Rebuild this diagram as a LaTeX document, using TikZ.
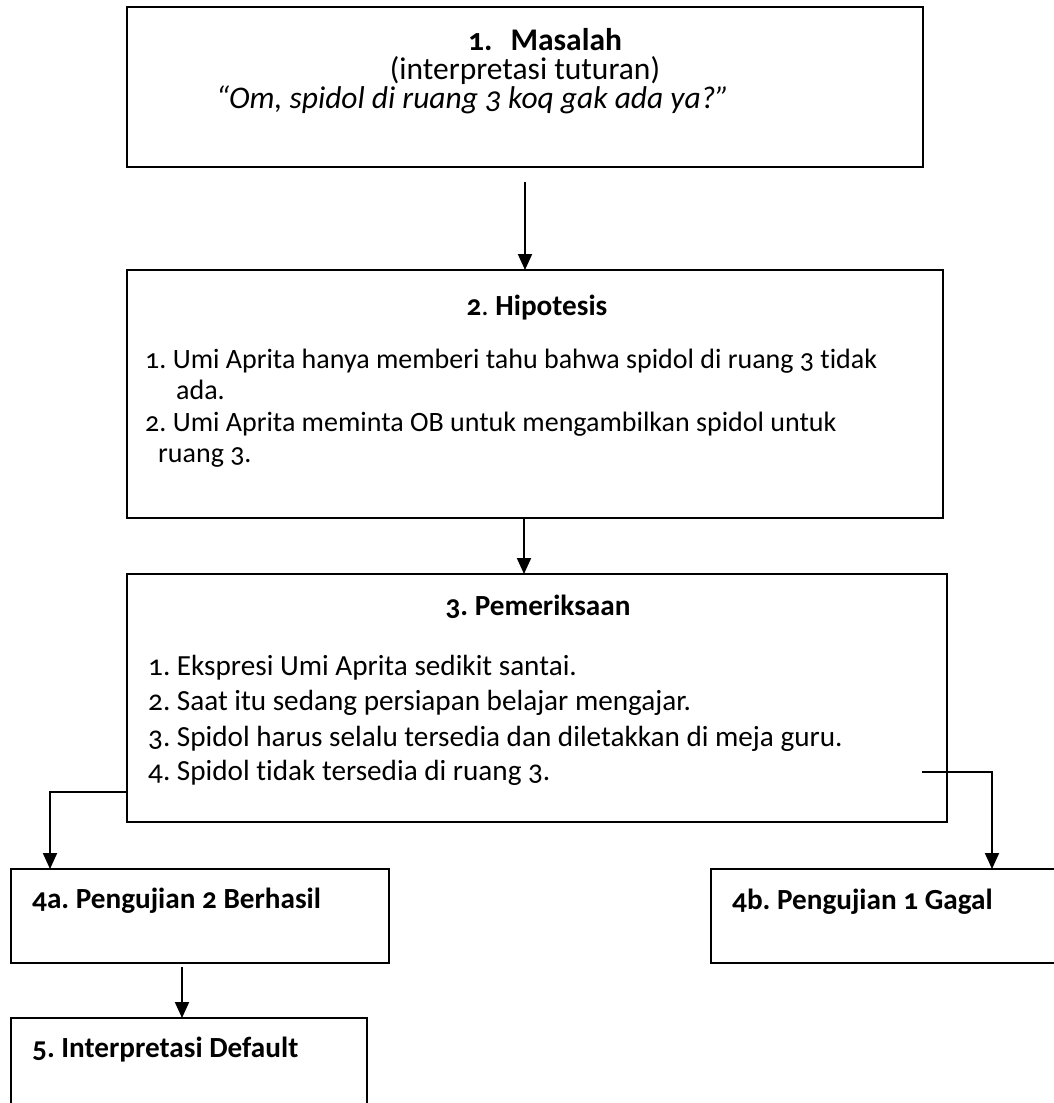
\documentclass[tikz,border=0pt]{standalone}
\usepackage{fontspec}
\setmainfont{Carlito}[Numbers=OldStyle, Ligatures=NoCommon]
\usetikzlibrary{arrows.meta}
\frenchspacing
\begin{document}
\begin{tikzpicture}[x=1pt,y=-1pt,
  box/.style={draw, line width=2pt, rectangle, inner sep=0pt, outer sep=0pt, anchor=north west},
  base/.style={inner sep=0pt, font=\fontsize{29.2}{35}\selectfont},
  txt/.style={base, anchor=base west},
  ctxt/.style={base, anchor=base},
  bold/.style={font=\fontsize{29.2}{35}\selectfont\bfseries},
  big/.style={font=\fontsize{31.5}{38}\selectfont},
  bigbold/.style={font=\fontsize{31.5}{38}\selectfont\bfseries},
  bigit/.style={font=\fontsize{31.5}{38}\selectfont\itshape},
  small/.style={font=\fontsize{28}{34}\selectfont},
  arr/.style={line width=2pt, -{Triangle[width=14pt,length=16pt]}}]
\useasboundingbox (0,0) rectangle (1054,1103);
\fill[white] (0,0) rectangle (1054,1103);

% boxes
\node[box, minimum width=796pt, minimum height=160pt] (b1) at (127,7) {};
\node[box, minimum width=816pt, minimum height=248pt] (b2) at (127,270) {};
\node[box, minimum width=820pt, minimum height=248pt] (b3) at (127,574) {};
\node[box, minimum width=378pt, minimum height=94pt] (b4a) at (11,869) {};
\node[box, minimum width=360pt, minimum height=94pt] (b4b) at (711,869) {};
\node[box, minimum width=356pt, minimum height=110pt] (b5) at (11,1018) {};

% box 1 text
\node[txt, bigbold] (t1a) at (468,50) {1.\hspace{18pt}Masalah};
\node[ctxt, big] (t1b) at (525,79) {(interpretasi tuturan)};
\node[txt, bigit] (t1c) at (216,108) {“Om, spidol di ruang 3 koq gak ada ya?”};

% box 2 text
\node[ctxt] (t2h) at (537,315) {\textbf{2}. \textbf{Hipotesis}};
\node[txt, small] (t2a) at (145,368) {1. Umi Aprita hanya memberi tahu bahwa spidol di ruang 3 tidak};
\node[txt, small] (t2b) at (176,399) {ada.};
\node[txt, small] (t2c) at (145,431) {2. Umi Aprita meminta OB untuk mengambilkan spidol untuk};
\node[txt, small] (t2d) at (158,462) {ruang 3.};

% box 3 text
\node[ctxt, bold] (t3h) at (538,615) {3. Pemeriksaan};
\node[txt] (t3a) at (148,675) {1. Ekspresi Umi Aprita sedikit santai.};
\node[txt] (t3b) at (148,710) {2. Saat itu sedang persiapan belajar mengajar.};
\node[txt] (t3c) at (148,746) {3. Spidol harus selalu tersedia dan diletakkan di meja guru.};
\node[txt] (t3d) at (148,780) {4. Spidol tidak tersedia di ruang 3.};

% box 4/5 text
\node[txt, bold] (t4a) at (32,908) {4a. Pengujian 2 Berhasil};
\node[txt, bold] (t4b) at (732,909) {4b. Pengujian 1 Gagal};
\node[txt, bold] (t5) at (32,1057) {5. Interpretasi Default};

% connectors
\coordinate (s12) at (525,182);
\draw[arr] (s12) -- (s12 |- b2.north);
\coordinate (s23) at (524,518);
\draw[arr] (s23) -- (s23 |- b3.north);
\coordinate (sl) at (127,792);
\coordinate (cl) at (50,792);
\draw[arr] (sl) -- (cl) -- (cl |- b4a.north);
\coordinate (sr) at (922,772);
\coordinate (cr) at (992,772);
\draw[arr] (sr) -- (cr) -- (cr |- b4b.north);
\coordinate (s45) at (182,967);
\draw[arr] (s45) -- (s45 |- b5.north);
\end{tikzpicture}
\end{document}
